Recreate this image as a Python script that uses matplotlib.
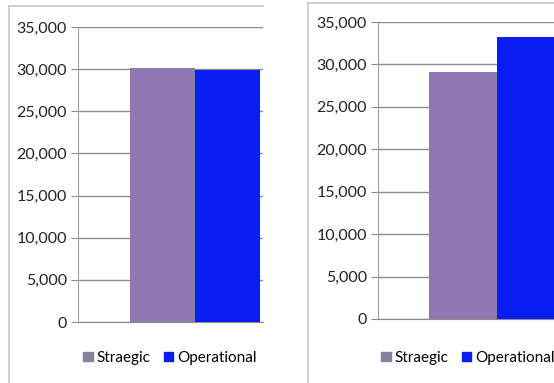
import numpy as np
import matplotlib.pyplot as plt
from matplotlib.lines import Line2D
from matplotlib.ticker import FuncFormatter

plt.rcParams['font.family'] = ['Lato', 'DejaVu Sans']

series = ["Straegic", "Operational"]
left_values = [30150, 29850]
right_values = [29100, 33200]
yticks = [0, 5000, 10000, 15000, 20000, 25000, 30000, 35000]

colors = ["#9079b3", "#0a1ef2"]
legend_colors = ["#8a7f9e", "#0a1ef2"]

W, H = 554, 383
fig = plt.figure(figsize=(W / 100, H / 100), dpi=100)


def px_axes(x0, y_top, x1, y_zero):
    return fig.add_axes([x0 / W, (H - y_zero) / H, (x1 - x0) / W, (y_zero - y_top) / H])


def panel_frame(x0, x1, y0):
    fig.add_artist(Line2D([x0 / W, x1 / W], [1 - y0 / H, 1 - y0 / H],
                          transform=fig.transFigure, color="#c8c8c8", lw=1.2))
    fig.add_artist(Line2D([x0 / W, x0 / W], [1 - y0 / H, 0],
                          transform=fig.transFigure, color="#c8c8c8", lw=1.2))


def draw(ax, values, xlim, legend_x):
    pos = np.arange(len(series))
    for i, (name, v) in enumerate(zip(series, values)):
        ax.bar(pos[i], v, width=1.0, color=colors[i], label=name, zorder=3)
    ax.set_xlim(*xlim)
    ax.set_ylim(0, 35000)
    ax.set_yticks(yticks)
    ax.yaxis.set_major_formatter(FuncFormatter(lambda v, p: f"{int(v):,}"))
    ax.grid(axis="y", color="#8c8c8c", lw=1.0, zorder=0)
    ax.set_xticks([])
    for s in ["top", "right"]:
        ax.spines[s].set_visible(False)
    ax.spines["left"].set_color("#a0a0a0")
    ax.spines["bottom"].set_color("#8c8c8c")
    ax.tick_params(axis="y", length=5, color="#8c8c8c", labelsize=11.5,
                   labelcolor="#222222", pad=3)
    handles = [plt.Rectangle((0, 0), 1, 1, color=c) for c in legend_colors]
    fig.legend(handles, series, loc="center", ncol=2,
               bbox_to_anchor=(legend_x / W, 1 - 358 / H),
               frameon=False, fontsize=11, handlelength=0.6, handleheight=0.6,
               handletextpad=0.25, columnspacing=0.9, borderpad=0.1)


panel_frame(9, 263, 6)
panel_frame(308, 554, 3)

ax1 = px_axes(78, 27, 263, 322)
draw(ax1, left_values, (-1.3, 1.55), 170)

ax2 = px_axes(378, 22, 554, 319)
draw(ax2, right_values, (-1.25, 1.34), 468)

fig.savefig("out.png", dpi=100)
